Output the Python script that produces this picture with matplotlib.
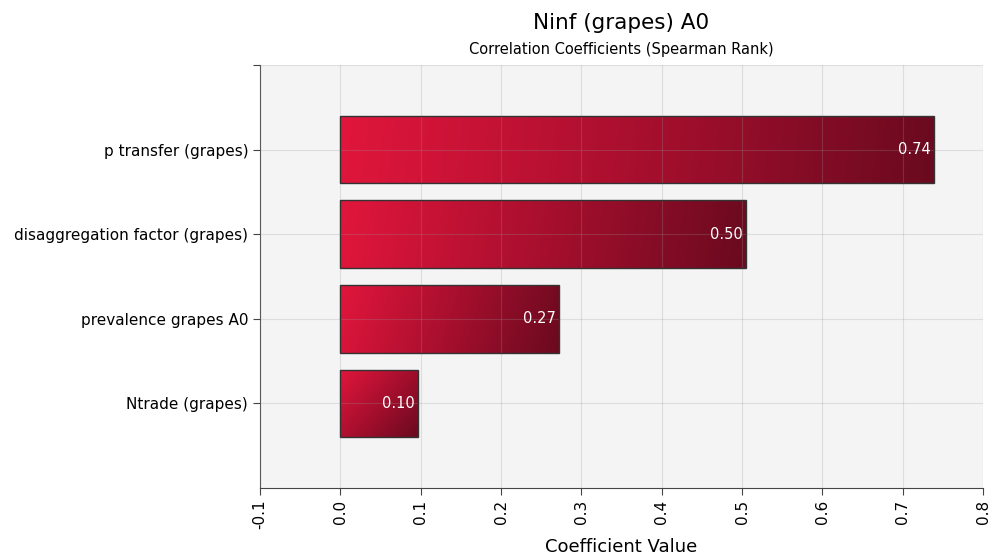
import numpy as np
import matplotlib.pyplot as plt
from matplotlib.colors import LinearSegmentedColormap
from matplotlib.patches import Rectangle

# data, bottom to top
params = ['Ntrade (grapes)', 'prevalence grapes A0',
          'disaggregation factor (grapes)', 'p transfer (grapes)']
coeffs = [0.097, 0.272, 0.505, 0.739]
labels = ['0.10', '0.27', '0.50', '0.74']
xticks = [-0.1, 0.0, 0.1, 0.2, 0.3, 0.4, 0.5, 0.6, 0.7, 0.8]

plt.rcParams['font.family'] = ['DejaVu Sans']

cmap = LinearSegmentedColormap.from_list('grad', ['#E1163C', '#A80F2E', '#6A0A1F'])

fig = plt.figure(figsize=(9.9, 5.58), dpi=100)
ax = fig.add_axes([0.2626, 0.1254, 0.7304, 0.7581])
ax.set_facecolor('#F4F4F4')
ax.set_xlim(-0.1, 0.8)
ax.set_ylim(-1, 4)

bar_h = 0.8
# pixel scale, so each gradient runs along its own bar diagonal
px_x = 0.7304 * 990 / 0.9
px_y = 0.7581 * 558 / 5.0
for i, v in enumerate(coeffs):
    w = v * px_x
    h = bar_h * px_y
    xs = np.linspace(0, 1, 200)
    ys = np.linspace(0, 1, 60)
    X, Y = np.meshgrid(xs, ys)
    t = (X * w * w + Y * h * h) / (w * w + h * h)
    rect = Rectangle((0, i - bar_h / 2), v, bar_h, facecolor='none',
                     edgecolor='#333333', lw=1.0, zorder=4)
    ax.add_patch(rect)
    im = ax.imshow(t, cmap=cmap, vmin=0, vmax=1, aspect='auto',
                   extent=(0, v, i - bar_h / 2, i + bar_h / 2), zorder=2,
                   interpolation='bilinear')
    im.set_clip_path(rect)
    ax.text(v - 0.004, i, labels[i], color='white', ha='right', va='center',
            fontsize=10.5, zorder=5)

ax.set_xlim(-0.1, 0.8)
ax.set_ylim(-1, 4)
ax.set_xticks(xticks)
ax.set_xticklabels(['%.1f' % x for x in xticks], rotation=90, fontsize=11)
ax.set_yticks(list(range(len(params))) + [4])
ax.set_yticklabels(params + [''], fontsize=11)
ax.grid(True, color='#999999', lw=0.8, alpha=0.25, zorder=3)
ax.set_axisbelow(False)
for s in ['top', 'right']:
    ax.spines[s].set_visible(False)
for s in ['left', 'bottom']:
    ax.spines[s].set_color('#444444')
ax.tick_params(colors='#444444', labelcolor='black', length=5)

ax.set_xlabel('Coefficient Value', fontsize=13, labelpad=6)
fig.text(0.6275, 0.958, 'Ninf (grapes) A0', ha='center', va='center', fontsize=15.5)
fig.text(0.6275, 0.911, 'Correlation Coefficients (Spearman Rank)',
         ha='center', va='center', fontsize=10.5)

fig.savefig('out.png', dpi=100)
